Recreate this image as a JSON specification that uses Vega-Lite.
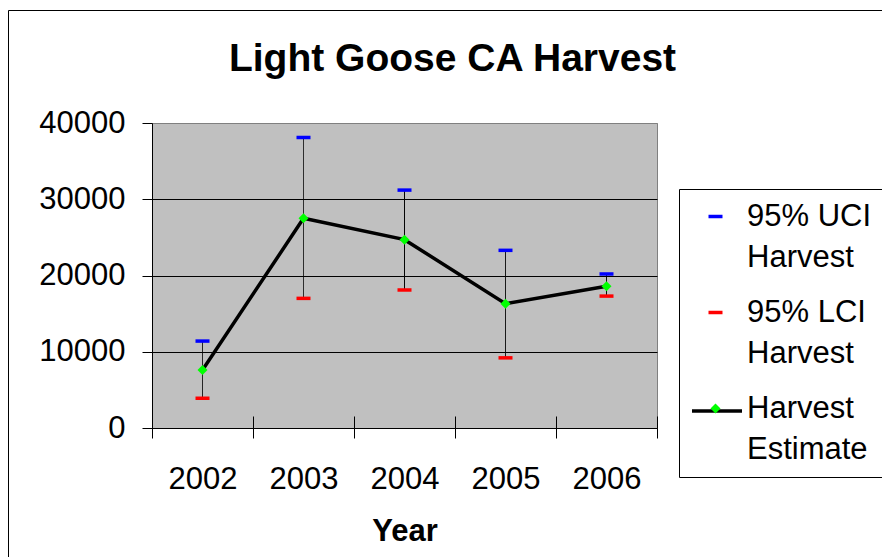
{
  "$schema": "https://vega.github.io/schema/vega-lite/v6.json",
  "width": 505,
  "height": 305,
  "autosize": {"type": "none"},
  "padding": {"left": 152, "top": 123, "right": 225, "bottom": 129},
  "background": "white",
  "title": {
    "text": "Light Goose CA Harvest",
    "font": "Liberation Sans",
    "fontSize": 39,
    "fontWeight": "bold",
    "color": "black",
    "anchor": "middle",
    "dx": 48,
    "offset": -100,
    "baseline": "alphabetic"
  },
  "config": {
    "font": "Liberation Sans",
    "view": {"fill": "#C0C0C0", "stroke": "#808080", "strokeWidth": 1},
    "style": {"guide-label": {"lineHeight": 41}}
  },
  "data": {
    "values": [
      {"year": "2002", "uci": 11400, "lci": 3900, "est": 7600},
      {"year": "2003", "uci": 38100, "lci": 17000, "est": 27500},
      {"year": "2004", "uci": 31200, "lci": 18100, "est": 24700},
      {"year": "2005", "uci": 23300, "lci": 9200, "est": 16300},
      {"year": "2006", "uci": 20200, "lci": 17300, "est": 18600}
    ]
  },
  "resolve": {"axis": {"x": "independent"}},
  "layer": [
    {
      "mark": {"type": "rule", "color": "black", "strokeWidth": 1},
      "encoding": {
        "x": {
          "field": "year",
          "type": "ordinal",
          "scale": {"type": "band", "paddingInner": 0, "paddingOuter": 0},
          "axis": {
            "orient": "bottom",
            "title": "Year",
            "titleFontSize": 31,
            "titleFontWeight": "bold",
            "titleColor": "black",
            "titlePadding": 22,
            "labelFontSize": 31,
            "labelColor": "black",
            "labelAngle": 0,
            "labelPadding": 26,
            "tickBand": "extent",
            "tickSize": 10,
            "tickColor": "black",
            "domainColor": "black",
            "grid": false
          }
        },
        "y": {
          "field": "lci",
          "type": "quantitative",
          "scale": {"domain": [0, 40000], "nice": false},
          "axis": {
            "title": null,
            "values": [0, 10000, 20000, 30000, 40000],
            "format": "d",
            "labelFontSize": 31,
            "labelColor": "black",
            "labelPadding": 17,
            "tickSize": 10,
            "tickColor": "black",
            "domainColor": "black",
            "grid": true,
            "gridColor": {"condition": {"test": "datum.value == 40000", "value": "#808080"}, "value": "black"},
            "gridOpacity": 1
          }
        },
        "y2": {"field": "uci"},
        "strokeDash": {
          "datum": "frame",
          "type": "nominal",
          "scale": {"domain": ["frame"], "range": [[1, 0]]},
          "legend": {
            "orient": "none",
            "legendX": -144,
            "legendY": -113,
            "title": null,
            "padding": 700,
            "strokeColor": "black",
            "labelExpr": "''",
            "symbolSize": 0,
            "symbolOpacity": 0,
            "zindex": 0
          }
        }
      }
    },
    {
      "mark": {"type": "line", "strokeWidth": 3.5},
      "encoding": {
        "x": {
          "field": "year",
          "type": "ordinal",
          "axis": {
            "orient": "bottom",
            "title": null,
            "labels": false,
            "domain": false,
            "grid": false,
            "tickBand": "extent",
            "tickSize": -12,
            "tickColor": "black"
          }
        },
        "y": {"field": "est", "type": "quantitative"},
        "stroke": {
          "datum": "est",
          "type": "nominal",
          "scale": {"domain": ["est"], "range": ["black"]},
          "legend": {
            "orient": "none",
            "legendX": 538,
            "legendY": 261,
            "title": null,
            "padding": 0,
            "labelExpr": "''",
            "labelFontSize": 1,
            "symbolType": "stroke",
            "symbolSize": 2500,
            "symbolStrokeColor": "black",
            "symbolStrokeWidth": 3.5,
            "zindex": 0
          }
        }
      }
    },
    {
      "transform": [{"fold": ["uci", "lci", "est"], "as": ["series", "value"]}],
      "mark": {"type": "point", "filled": true, "size": 100, "opacity": 1},
      "encoding": {
        "x": {"field": "year", "type": "ordinal", "axis": null},
        "y": {"field": "value", "type": "quantitative"},
        "shape": {
          "field": "series",
          "type": "nominal",
          "scale": {
            "domain": ["uci", "lci", "est"],
            "range": ["M-1.4,-0.35H1.4V0.35H-1.4Z", "M-1.4,-0.35H1.4V0.35H-1.4Z", "diamond"]
          },
          "legend": {
            "orient": "none",
            "legendX": 527,
            "legendY": 66,
            "title": null,
            "padding": 12,
            "strokeColor": "black",
            "labelExpr": "datum.label == 'uci' ? ['95% UCI', 'Harvest'] : datum.label == 'lci' ? ['95% LCI', 'Harvest'] : ['Harvest', 'Estimate']",
            "labelFontSize": 31,
            "labelFont": "Liberation Sans",
            "labelColor": "black",
            "labelLimit": 0,
            "labelOffset": 16,
            "symbolOffset": 9,
            "symbolStrokeWidth": 0,
            "rowPadding": 23,
            "zindex": 1,
            "encode": {"labels": {"update": {"lineHeight": {"value": 41}}}}
          }
        },
        "fill": {
          "field": "series",
          "type": "nominal",
          "scale": {
            "domain": ["uci", "lci", "est"],
            "range": ["#0000FF", "#FF0000", "#00FF00"]
          },
          "legend": {
            "orient": "none",
            "legendX": 527,
            "legendY": 66,
            "title": null,
            "padding": 12,
            "strokeColor": "black",
            "labelExpr": "datum.label == 'uci' ? ['95% UCI', 'Harvest'] : datum.label == 'lci' ? ['95% LCI', 'Harvest'] : ['Harvest', 'Estimate']",
            "labelFontSize": 31,
            "labelFont": "Liberation Sans",
            "labelColor": "black",
            "labelLimit": 0,
            "labelOffset": 16,
            "symbolOffset": 9,
            "symbolStrokeWidth": 0,
            "rowPadding": 23,
            "zindex": 1,
            "encode": {"labels": {"update": {"lineHeight": {"value": 41}}}}
          }
        }
      }
    }
  ]
}
